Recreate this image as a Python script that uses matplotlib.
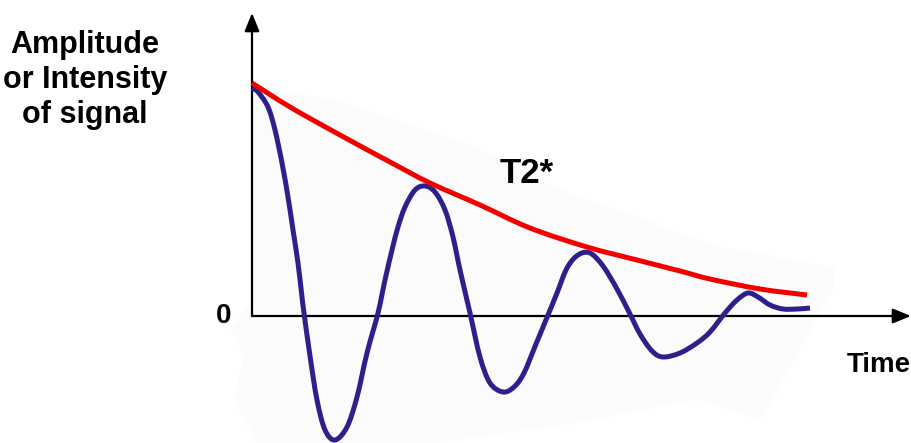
import matplotlib.pyplot as plt
from matplotlib.path import Path
from matplotlib.patches import PathPatch
import numpy as np

# Datos (tiempo, amplitud) en unidades arbitrarias
tiempo_fid = [0, 6, 16, 23, 30, 36, 41, 46, 50, 52, 58, 65, 73, 83, 95, 105, 115,
              126, 133, 140, 146, 153, 163, 173, 183, 193, 201, 208, 218, 228, 238,
              251, 262, 272, 284, 296, 305, 315, 326, 338, 351, 365, 378, 388, 400,
              411, 428, 445, 458, 473, 485, 496, 506, 518, 531, 545, 558]
amplitud_fid = [228, 224, 209, 186, 153, 119, 86, 53, 19, 3, -40, -84, -114, -124, -111, -81, -37,
                3, 36, 66, 89, 109, 126, 130, 124, 106, 79, 46, 3, -41, -67,
                -76, -71, -57, -28, 1, 23, 48, 61, 63, 50, 27, 2, -18, -35,
                -41, -37, -27, -16, 3, 16, 23, 19, 11, 7, 7, 8]

tiempo_env = [0, 38, 88, 138, 178, 228, 278, 335, 385, 428, 458, 508, 555]
amplitud_env = [233, 209, 181, 154, 133, 111, 88, 69, 56, 45, 37, 27, 21]

# sombra gris muy tenue detras de la curva
sombra_x = [0, 78, 228, 308, 466, 582, 582, 508, 448, 308, 178, 6, -17, -7, -20, 0]
sombra_y = [228, 216, 166, 126, 69, 48, 31, -104, -82, -109, -127, -127, -84, -39, -14, 16]


def trazo_suave(xs, ys):
    # camino Bezier (Catmull-Rom) que pasa por los puntos leidos
    p = np.column_stack([xs, ys]).astype(float)
    verts = [p[0]]
    codes = [Path.MOVETO]
    for i in range(len(p) - 1):
        p0 = p[i - 1] if i > 0 else p[i]
        p3 = p[i + 2] if i + 2 < len(p) else p[i + 1]
        c1 = p[i] + (p[i + 1] - p0) / 6
        c2 = p[i + 1] - (p3 - p[i]) / 6
        verts += [c1, c2, p[i + 1]]
        codes += [Path.CURVE4] * 3
    return Path(verts, codes)


fig = plt.figure(figsize=(9.11, 4.43), dpi=100)
ax = fig.add_axes([0, 0, 1, 1])
ax.set_xlim(-252, 659)
ax.set_ylim(-127, 316)
ax.axis('off')

ax.fill(sombra_x, sombra_y, color='#fbfbfb', zorder=0)

# ejes con flechas
flecha = dict(arrowstyle='-|>,head_length=1.1,head_width=0.45', color='black',
              lw=1.6, shrinkA=0, shrinkB=0)
ax.annotate('', xy=(0, 303), xytext=(0, 0), arrowprops=flecha, zorder=2,
            annotation_clip=False)
ax.annotate('', xy=(659, 0), xytext=(0, 0), arrowprops=flecha, zorder=2,
            annotation_clip=False)

ax.add_patch(PathPatch(trazo_suave(tiempo_fid, amplitud_fid), fill=False,
                       edgecolor='#2e1f8c', lw=3.6, joinstyle='round',
                       capstyle='butt', zorder=3))
ax.add_patch(PathPatch(trazo_suave(tiempo_env, amplitud_env), fill=False,
                       edgecolor='#f20000', lw=3.6, joinstyle='round',
                       capstyle='butt', zorder=4))

fuente = dict(family='Liberation Sans', weight='bold', color='black')
ax.text(-167, 236, 'Amplitude\nor Intensity\nof signal', ha='center', va='center',
        fontsize=22, linespacing=1.22, **fuente)
ax.text(-28, 0, '0', ha='center', va='center', fontsize=20, **fuente)
ax.text(248, 133, 'T2*', ha='left', va='baseline', fontsize=25, **fuente)
ax.text(595, -56, 'Time', ha='left', va='baseline', fontsize=20, **fuente)

plt.savefig('out.png', dpi=100)
